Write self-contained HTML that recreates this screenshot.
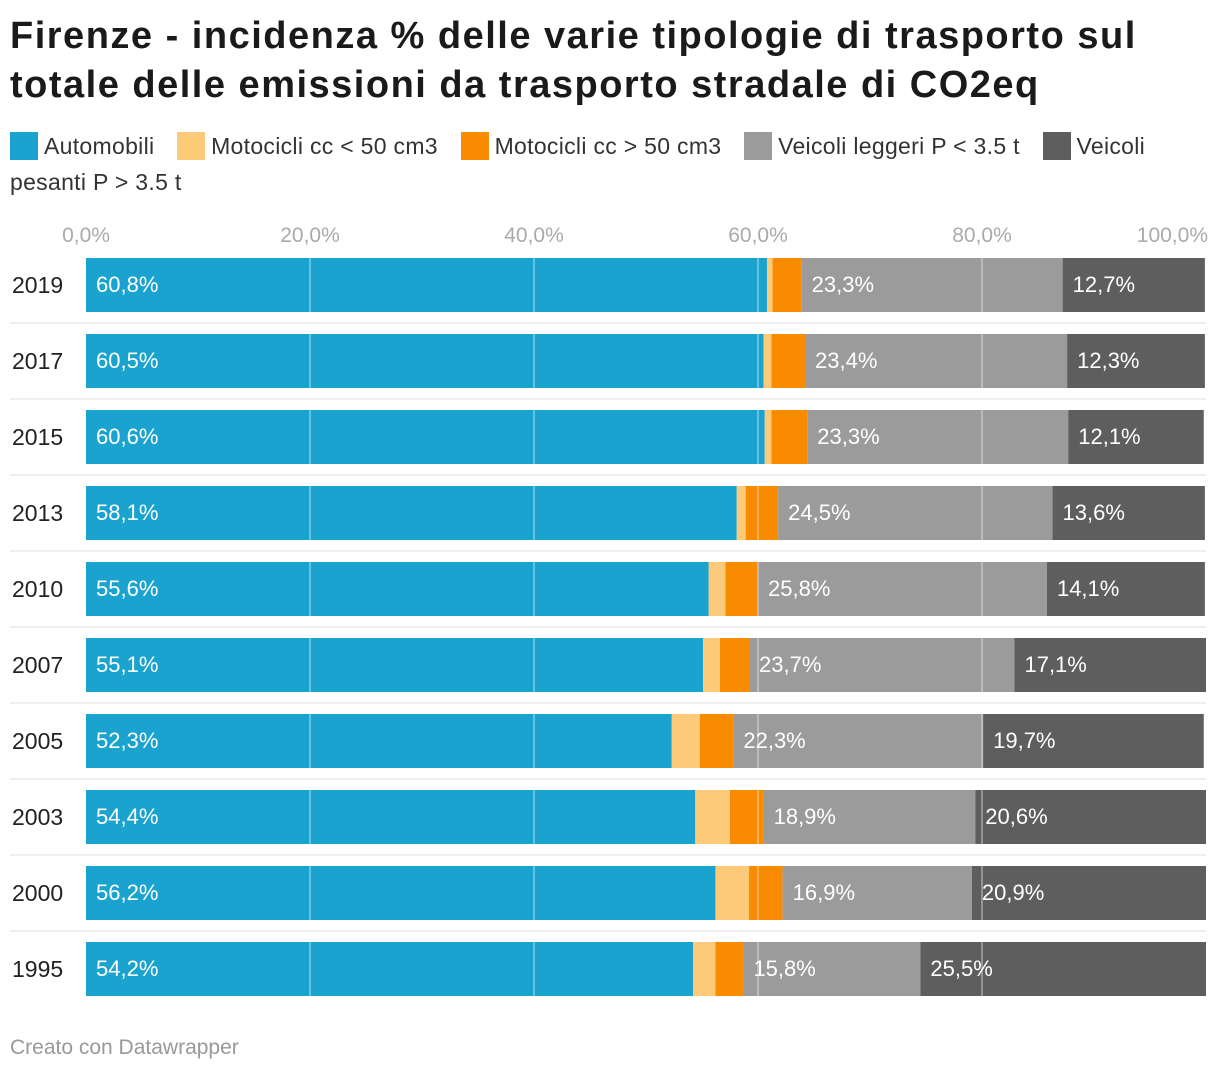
<!DOCTYPE html>
<html><head><meta charset="utf-8">
<style>
body{margin:0;background:#fff;font-family:"Liberation Sans",sans-serif;width:1220px;height:1074px;overflow:hidden;position:relative}
h1{position:absolute;left:10px;top:12px;margin:0;font-size:38px;line-height:49px;font-weight:bold;color:#1a1a1a;letter-spacing:1.5px;width:1210px;white-space:nowrap}
#legend{position:absolute;left:10px;top:128px;width:1200px;font-size:23px;line-height:36px;color:#333;letter-spacing:0.3px}
.li{margin-right:16px}
.sw{display:inline-block;width:28px;height:28px;vertical-align:-6px;margin-right:6px}
#footer{position:absolute;left:10px;top:1036px;font-size:21px;color:#999}
</style></head><body>
<h1>Firenze - incidenza % delle varie tipologie di trasporto sul<br>totale delle emissioni da trasporto stradale di CO2eq</h1>
<div id="legend">
<span class="li"><span class="sw" style="background:#1ba3cf"></span>Automobili</span> <span class="li"><span class="sw" style="background:#fdca7a"></span>Motocicli cc &lt; 50 cm3</span> <span class="li"><span class="sw" style="background:#f98b00"></span>Motocicli cc &gt; 50 cm3</span> <span class="li"><span class="sw" style="background:#9b9b9b"></span>Veicoli leggeri P &lt; 3.5 t</span> <span class="li"><span class="sw" style="background:#5e5e5e"></span>Veicoli pesanti P &gt; 3.5 t</span>
</div>
<svg id="chart" width="1220" height="1074" style="position:absolute;left:0;top:0"></svg>
<div id="footer">Creato con Datawrapper</div>
<script>
const years=["2019","2017","2015","2013","2010","2007","2005","2003","2000","1995"];
const automobili=[60.8,60.5,60.6,58.1,55.6,55.1,52.3,54.4,56.2,54.2];
const motoLt50=[0.5,0.7,0.6,0.8,1.5,1.5,2.5,3.1,3.0,2.0];
const motoGt50=[2.6,3.0,3.2,2.9,2.9,2.6,3.0,3.0,3.0,2.5];
const leggeri=[23.3,23.4,23.3,24.5,25.8,23.7,22.3,18.9,16.9,15.8];
const pesanti=[12.7,12.3,12.1,13.6,14.1,17.1,19.7,20.6,20.9,25.5];
const ticks=[0,20,40,60,80,100];
const series=[automobili,motoLt50,motoGt50,leggeri,pesanti];
const colors=["#1ba3cf","#fdca7a","#f98b00","#9b9b9b","#5e5e5e"];
const labeled=[true,false,false,true,true];
const names=["automobili","moto-lt50","moto-gt50","leggeri","pesanti"];
const svg=document.getElementById('chart');
const NS="http://www.w3.org/2000/svg";
const x=v=>86+v*11.2;
const y=i=>258+i*76;
const H=54;
const fmt=v=>v.toFixed(1).replace('.',',')+'%';
function mk(t,a){const e=document.createElementNS(NS,t);for(const k in a)e.setAttribute(k,a[k]);svg.appendChild(e);return e;}
ticks.forEach(t=>{
  const e=mk('text',{x:x(t),y:242,'text-anchor':t==100?'end':'middle','font-size':21,fill:'#aaa','font-family':'Liberation Sans'});
  if(t==100)e.setAttribute('x',x(t)+2);
  e.textContent=t.toFixed(1).replace('.',',')+'%';
  
  
});
years.forEach((yr,i)=>{
  const yl=mk('text',{x:12,y:y(i)+35,'font-size':23,fill:'#222','font-family':'Liberation Sans'});
  yl.textContent=yr;
  
  
  if(i<years.length-1){
    const s=mk('line',{x1:10,x2:1206,y1:y(i)+65,y2:y(i)+65,stroke:'#ddd','stroke-width':1});
    
    
  }
  let acc=0;
  series.forEach((ser,k)=>{
    const v=ser[i];
    const r=mk('rect',{x:x(acc),y:y(i),width:v*11.2,height:H,fill:colors[k]});
    
    
    if(labeled[k]){
      const t=mk('text',{x:x(acc)+10,y:y(i)+34,'font-size':22,fill:'#fff','font-family':'Liberation Sans'});
      t.textContent=fmt(v);
      
      
    }
    acc+=v;
  });
  [20,40,60,80].forEach(t=>{
    const g=mk('line',{x1:x(t),x2:x(t),y1:y(i),y2:y(i)+H,stroke:'rgba(255,255,255,0.45)','stroke-width':1.5});
    
    
  });
});
</script>
</body></html>
